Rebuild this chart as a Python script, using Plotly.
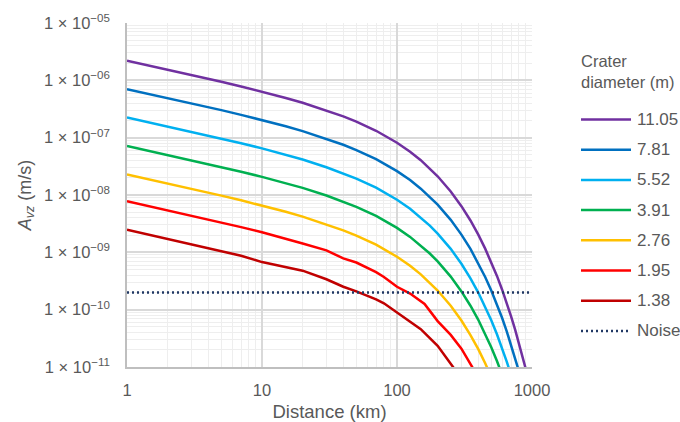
import plotly.graph_objects as go

# ---------------- data ----------------
distance_km = [1, 2, 3, 5, 7, 10, 15, 20, 30, 40, 50, 70, 100, 125, 150, 175,
               200, 250, 300, 350, 400, 450, 500, 550, 600, 650, 700, 750, 800, 850, 900]

a_1105 = [2.20e-6, 1.54e-6, 1.24e-6, 9.44e-7, 7.82e-7, 6.35e-7, 4.93e-7, 4.06e-7, 3.00e-7, 2.35e-7,
          1.90e-7, 1.32e-7, 8.17e-8, 5.69e-8, 4.05e-8, 2.92e-8, 2.12e-8, 1.15e-8, 6.38e-9, 3.59e-9,
          2.04e-9, 1.16e-9, 6.70e-10, 3.88e-10, 2.25e-10, 1.31e-10, 7.67e-11, 4.50e-11, 2.64e-11,
          1.56e-11, 9.18e-12]
a_781 = [7.03e-7, 4.92e-7, 3.97e-7, 3.02e-7, 2.50e-7, 2.03e-7, 1.58e-7, 1.30e-7, 9.59e-8, 7.52e-8,
         6.08e-8, 4.22e-8, 2.61e-8, 1.82e-8, 1.29e-8, 9.33e-9, 6.79e-9, 3.69e-9, 2.04e-9, 1.15e-9,
         6.52e-10, 3.72e-10, 2.14e-10, 1.24e-10, 7.21e-11, 4.20e-11, 2.45e-11, 1.44e-11, 8.45e-12,
         None, None]
a_552 = [2.25e-7, 1.57e-7, 1.27e-7, 9.66e-8, 8.00e-8, 6.50e-8, 5.05e-8, 4.16e-8, 3.05e-8, 2.39e-8,
         1.93e-8, 1.34e-8, 8.26e-9, 5.74e-9, 4.06e-9, 2.92e-9, 2.12e-9, 1.15e-9, 6.31e-10, 3.52e-10,
         1.99e-10, 1.13e-10, 6.47e-11, 3.72e-11, 2.15e-11, 1.24e-11, 7.24e-12, None, None, None, None]
a_391 = [7.18e-8, 5.02e-8, 4.06e-8, 3.08e-8, 2.55e-8, 2.07e-8, 1.61e-8, 1.33e-8, 9.79e-9, 7.67e-9,
         6.21e-9, 4.31e-9, 2.67e-9, 1.86e-9, 1.32e-9, 9.53e-10, 6.93e-10, 3.77e-10, 2.08e-10,
         1.17e-10, 6.65e-11, 3.80e-11, 2.19e-11, 1.27e-11, 7.36e-12, None, None, None, None, None, None]
a_276 = [2.27e-8, 1.59e-8, 1.28e-8, 9.75e-9, 8.07e-9, 6.56e-9, 5.09e-9, 4.19e-9, 3.09e-9, 2.42e-9,
         1.95e-9, 1.36e-9, 8.37e-10, 5.82e-10, 4.13e-10, 2.98e-10, 2.16e-10, 1.17e-10, 6.46e-11,
         3.61e-11, 2.05e-11, 1.16e-11, 6.68e-12, None, None, None, None, None, None, None, None]

distance_km_195 = [1, 2, 3, 5, 7, 10, 15, 20, 30, 40, 50, 60, 70, 80, 100, 125, 160, 200, 250, 300, 350, 400]
a_195 = [7.82e-9, 5.42e-9, 4.38e-9, 3.33e-9, 2.75e-9, 2.24e-9, 1.74e-9, 1.43e-9, 1.08e-9, 7.85e-10,
         6.64e-10, 5.47e-10, 4.51e-10, 3.72e-10, 2.51e-10, 1.91e-10, 1.26e-10, 6.31e-11, 3.63e-11,
         2.09e-11, 1.17e-11, 6.61e-12]

distance_km_138 = [1, 2, 3, 5, 7, 10, 15, 20, 30, 40, 50, 60, 70, 80, 100, 125, 150, 200, 250, 300]
a_138 = [2.47e-9, 1.72e-9, 1.39e-9, 1.07e-9, 8.71e-10, 6.76e-10, 5.50e-10, 4.79e-10, 3.39e-10,
         2.51e-10, 2.09e-10, 1.78e-10, 1.51e-10, 1.29e-10, 8.91e-11, 6.31e-11, 4.57e-11, 2.34e-11,
         1.17e-11, 6.31e-12]

noise_distance_km = [1, 1000]
noise_level = [2e-10, 2e-10]

series_names = ["11.05", "7.81", "5.52", "3.91", "2.76", "1.95", "1.38"]
series_colors = ["#7030A0", "#0070C0", "#00B0F0", "#00B050", "#FFC000", "#FF0000", "#C00000"]
series_x = [distance_km, distance_km, distance_km, distance_km, distance_km, distance_km_195, distance_km_138]
series_y = [a_1105, a_781, a_552, a_391, a_276, a_195, a_138]

y_tick_vals = [1e-11, 1e-10, 1e-9, 1e-8, 1e-7, 1e-6, 1e-5]
y_tick_text = ["1 × 10<sup>−11</sup>", "1 × 10<sup>−10</sup>", "1 × 10<sup>−09</sup>",
               "1 × 10<sup>−08</sup>", "1 × 10<sup>−07</sup>", "1 × 10<sup>−06</sup>",
               "1 × 10<sup>−05</sup>"]
x_tick_vals = [1, 10, 100, 1000]
x_tick_text = ["1", "10", "100", "1000"]

# ---------------- figure ----------------
TXT = "#595959"
FONT = "Liberation Sans, Arial, sans-serif"
W, H = 680, 422
ML, MR, MT, MB = 127, 148, 23, 55
PW, PH = W - ML - MR, H - MT - MB
NOISE_COLOR = "#203864"

fig = go.Figure()
for name, col, xs, ys in zip(series_names, series_colors, series_x, series_y):
    fig.add_trace(go.Scatter(x=xs, y=ys, mode="lines", name=name, showlegend=False,
                             line=dict(color=col, width=2.5)))
fig.add_trace(go.Scatter(x=noise_distance_km, y=noise_level, mode="lines", name="Noise",
                         showlegend=False,
                         line=dict(color=NOISE_COLOR, width=2.5, dash="2px,3px")))

minor_vals = [m * 10 ** e for e in range(-12, 4) for m in range(2, 10)]

fig.update_xaxes(type="log", range=[0, 3], tickmode="array", tickvals=x_tick_vals,
                 ticktext=x_tick_text, showgrid=True, gridcolor="#d9d9d9", gridwidth=1.5,
                 minor=dict(tickmode="array", tickvals=minor_vals, showgrid=True,
                            gridcolor="#eeeeee", gridwidth=1.2),
                 showline=True, linecolor="#bfbfbf", linewidth=1.5, zeroline=False,
                 ticks="", ticklabelstandoff=7,
                 tickfont=dict(family=FONT, size=16.5, color=TXT),
                 title=dict(text="Distance (km)", font=dict(family=FONT, size=18.5, color=TXT),
                            standoff=11))
fig.update_yaxes(type="log", range=[-11, -5], tickmode="array", tickvals=y_tick_vals,
                 ticktext=y_tick_text, showgrid=True, gridcolor="#d9d9d9", gridwidth=1.5,
                 minor=dict(tickmode="array", tickvals=minor_vals, showgrid=True,
                            gridcolor="#eeeeee", gridwidth=1.2),
                 showline=True, linecolor="#bfbfbf", linewidth=1.5, zeroline=False,
                 ticks="", ticklabelstandoff=12,
                 tickfont=dict(family=FONT, size=16.5, color=TXT),
                 title=dict(text="<i>A</i><sub><i>vz</i></sub> (m/s)",
                            font=dict(family=FONT, size=18, color=TXT), standoff=8))

# custom legend (as in the original, with long line samples); positions in window pixels
def px_x(px):
    return (px - ML) / PW

def px_y(py):
    return (H - MB - py) / PH

annotations = [dict(text="Crater<br>diameter (m)", x=px_x(579), y=px_y(71.5), xref="paper",
                    yref="paper", xanchor="left", yanchor="middle", align="left",
                    showarrow=False, font=dict(family=FONT, size=16.5, color=TXT))]
shapes = []
leg_names = series_names + ["Noise"]
leg_colors = series_colors + [NOISE_COLOR]
for i, (nm, col) in enumerate(zip(leg_names, leg_colors)):
    py = 119.5 + i * 30.2
    shapes.append(dict(type="line", xref="paper", yref="paper", x0=px_x(581), x1=px_x(631),
                       y0=px_y(py), y1=px_y(py),
                       line=dict(color=col, width=2.5, dash="2px,3px" if nm == "Noise" else "solid")))
    annotations.append(dict(text=nm, x=px_x(635), y=px_y(py), xref="paper", yref="paper",
                            xanchor="left", yanchor="middle", showarrow=False,
                            font=dict(family=FONT, size=17, color=TXT)))

fig.update_layout(width=W, height=H, margin=dict(l=ML, r=MR, t=MT, b=MB, autoexpand=False),
                  paper_bgcolor="white", plot_bgcolor="white",
                  font=dict(family=FONT, color=TXT), annotations=annotations, shapes=shapes)

fig.write_html("out.html", config={"displayModeBar": False},
               post_script="document.body.style.margin='0';"
                           "document.documentElement.style.overflow='hidden';")
